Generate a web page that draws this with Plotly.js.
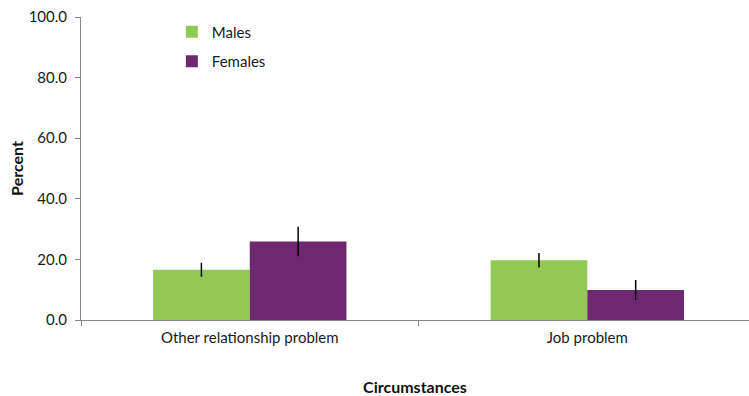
<!DOCTYPE html>
<html>
<head>
<meta charset="utf-8">
<script src="https://cdn.plot.ly/plotly-3.0.1.min.js"></script>
<style>
  html, body { margin: 0; padding: 0; background: #fff; }
  #chart { width: 749px; height: 396px; }
</style>
</head>
<body>
<div id="chart"></div>
<script>
// Circumstances and per-sex percentages with error margins
const categories = ["Other relationship problem", "Job problem"];
const malesPct = [16.6, 19.7];
const malesErr = [2.3, 2.4];
const femalesPct = [25.9, 9.9];
const femalesErr = [4.9, 3.3];
const yTickVals = [0, 20, 40, 60, 80, 100];
const yTickText = ["0.0", "20.0", "40.0", "60.0", "80.0", "100.0"];

const font = "Lato, 'Open Sans', sans-serif";

const errStyle = (arr) => ({
  type: "data", array: arr, visible: true,
  color: "#000", thickness: 1.5, width: 0
});

const traces = [
  {
    type: "bar", name: "Males", x: categories, y: malesPct,
    marker: { color: "#92C955" }, error_y: errStyle(malesErr),
    legendgroup: "m"
  },
  {
    type: "bar", name: "Females", x: categories, y: femalesPct,
    marker: { color: "#6E2870" }, error_y: errStyle(femalesErr),
    legendgroup: "f"
  }
];

const layout = {
  width: 749, height: 396,
  margin: { l: 81, r: 0, t: 17, b: 76 },
  paper_bgcolor: "#fff", plot_bgcolor: "#fff",
  barmode: "group", bargap: 0.427, bargroupgap: 0,
  font: { family: font, size: 15, color: "#1a1a1a" },
  showlegend: true,
  legend: {
    x: 0.136, y: 1.005, xref: "paper", yref: "paper",
    xanchor: "left", yanchor: "top",
    traceorder: "grouped", tracegroupgap: 7,
    font: { family: font, size: 15, color: "#1a1a1a" },
    bgcolor: "rgba(0,0,0,0)"
  },
  xaxis: {
    type: "category", range: [-0.5, 1.479],
    tickson: "boundaries", ticks: "outside", ticklen: 5, tickcolor: "#888",
    showline: true, linecolor: "#888", linewidth: 1,
    showgrid: false, zeroline: false, automargin: true,
    ticklabelstandoff: 4,
    tickfont: { family: font, size: 15, color: "#1a1a1a" },
    title: { text: "<b>Circumstances</b>", standoff: 38,
             font: { family: font, size: 16, color: "#111" } }
  },
  yaxis: {
    range: [0, 100], tickvals: yTickVals, ticktext: yTickText,
    ticks: "outside", ticklen: 5, tickcolor: "#888",
    showline: true, linecolor: "#888", linewidth: 1,
    showgrid: false, zeroline: false, automargin: true,
    ticklabelstandoff: 5,
    tickfont: { family: font, size: 15, color: "#1a1a1a" },
    title: { text: "<b>Percent</b>", standoff: 1,
             font: { family: font, size: 16, color: "#111" } }
  }
};

Plotly.newPlot("chart", traces, layout, { displayModeBar: false, staticPlot: true });
</script>
</body>
</html>
